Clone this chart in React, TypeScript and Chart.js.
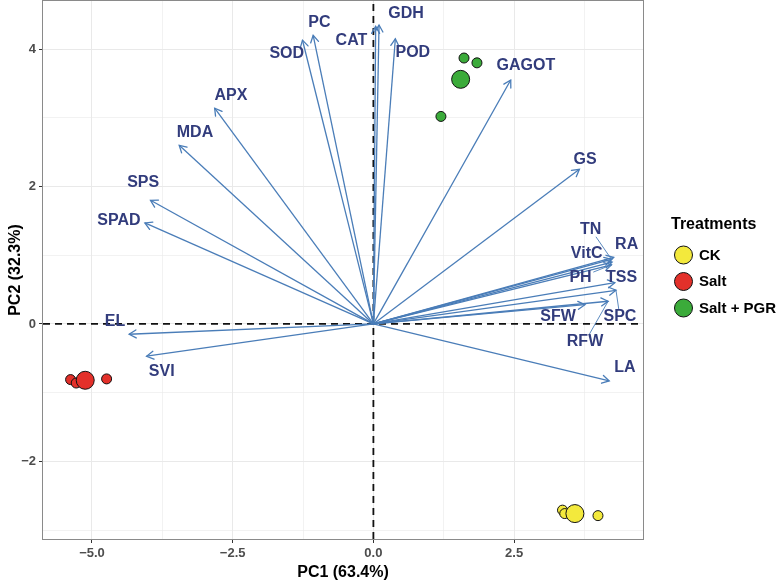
import React, { useEffect, useRef } from "react";
import { Chart, registerables } from "chart.js";

Chart.register(...registerables);

// ---- Variable loadings (arrow tips) ----
const variableNames = ["SOD", "PC", "CAT", "GDH", "POD", "APX", "MDA", "SPS", "SPAD", "GAGOT", "GS", "TN", "RA", "VitC", "PH", "TSS", "SPC", "RFW", "SFW", "LA", "EL", "SVI"];
const loadingPC1 = [-1.26, -1.07, 0.04, 0.10, 0.39, -2.82, -3.45, -3.96, -4.06, 2.44, 3.66, 4.23, 4.27, 4.24, 4.23, 4.29, 4.31, 4.17, 3.76, 4.19, -4.34, -4.03];
const loadingPC2 = [4.13, 4.20, 4.33, 4.35, 4.15, 3.14, 2.60, 1.80, 1.47, 3.55, 2.25, 0.94, 0.97, 0.90, 0.86, 0.60, 0.49, 0.33, 0.28, -0.83, -0.15, -0.47];
// label positions (data units)
const labelPC1 = [-1.54, -0.96, -0.39, 0.58, 0.70, -2.53, -3.17, -4.09, -4.52, 2.71, 3.76, 3.86, 4.50, 3.79, 3.68, 4.41, 4.38, 3.76, 3.28, 4.47, -4.59, -3.76];
const labelPC2 = [3.93, 4.39, 4.12, 4.51, 3.95, 3.33, 2.78, 2.06, 1.51, 3.76, 2.39, 1.38, 1.16, 1.03, 0.68, 0.68, 0.10, -0.26, 0.11, -0.64, 0.03, -0.69];
const segmentLabels = ["TN", "PH", "SPC", "RFW"];

// ---- Sample scores ----
const treatments = ["CK", "Salt", "Salt + PGR"];
const ckPC1 = [3.36, 3.40, 3.99];
const ckPC2 = [-2.71, -2.76, -2.79];
const ckCentroid = [3.58, -2.76];
const saltPC1 = [-5.38, -5.28, -4.74];
const saltPC2 = [-0.81, -0.86, -0.80];
const saltCentroid = [-5.12, -0.82];
const pgrPC1 = [1.61, 1.84, 1.20];
const pgrPC2 = [3.87, 3.80, 3.02];
const pgrCentroid = [1.55, 3.56];

// ---- Axes ----
const xMajorTicks = [-5, -2.5, 0, 2.5];
const xMinorTicks = [-3.75, -1.25, 1.25, 3.75];
const yMajorTicks = [-2, 0, 2, 4];
const yMinorTicks = [-3, -1, 1, 3];
const xTitle = "PC1 (63.4%)";
const yTitle = "PC2 (32.3%)";
const legendTitle = "Treatments";

const FONT = "'Liberation Sans', Arial, Helvetica, sans-serif";
const ARROW_COLOR = "#4A7DB8";
const LABEL_COLOR = "#323C7C";
const GROUP_COLORS = ["#F3E93C", "#E3302A", "#3BAB3A"];

function fmtMinus(s: string) {
  return s.replace("-", "\u2212");
}

export default function App() {
  const canvasRef = useRef<HTMLCanvasElement | null>(null);

  useEffect(() => {
    const canvas = canvasRef.current;
    if (!canvas) return;

    const arrowDatasets = variableNames.map((name, i) => ({
      type: "scatter" as const,
      label: name,
      data: [
        { x: 0, y: 0 },
        { x: loadingPC1[i], y: loadingPC2[i] },
      ],
      showLine: true,
      borderColor: ARROW_COLOR,
      backgroundColor: ARROW_COLOR,
      borderWidth: 1.3,
      pointRadius: 0,
      pointHoverRadius: 0,
      order: 2,
    }));

    const groups = [
      { x: ckPC1, y: ckPC2, c: ckCentroid },
      { x: saltPC1, y: saltPC2, c: saltCentroid },
      { x: pgrPC1, y: pgrPC2, c: pgrCentroid },
    ];
    const pointDatasets = groups.map((g, gi) => ({
      type: "scatter" as const,
      label: treatments[gi],
      data: [
        ...g.x.map((v, k) => ({ x: v, y: g.y[k] })),
        { x: g.c[0], y: g.c[1] },
      ],
      pointRadius: [5, 5, 5, 9],
      pointBackgroundColor: GROUP_COLORS[gi],
      pointBorderColor: "#111111",
      pointBorderWidth: 1,
      showLine: false,
      order: 1,
    }));

    const zeroLinesPlugin = {
      id: "zeroLines",
      beforeDatasetsDraw(chart: any) {
        const { ctx, chartArea, scales } = chart;
        const x0 = scales.x.getPixelForValue(0);
        const y0 = scales.y.getPixelForValue(0);
        ctx.save();
        ctx.strokeStyle = "#111111";
        ctx.lineWidth = 1.8;
        ctx.setLineDash([7, 5]);
        ctx.beginPath();
        ctx.moveTo(chartArea.left, y0);
        ctx.lineTo(chartArea.right, y0);
        ctx.stroke();
        ctx.beginPath();
        ctx.moveTo(x0, chartArea.bottom);
        ctx.lineTo(x0, chartArea.top);
        ctx.stroke();
        ctx.restore();
      },
    };

    const arrowsPlugin = {
      id: "arrowsAndLabels",
      afterDatasetsDraw(chart: any) {
        const { ctx, scales } = chart;
        ctx.save();
        // arrow heads
        ctx.strokeStyle = ARROW_COLOR;
        ctx.lineWidth = 1.3;
        ctx.lineCap = "round";
        for (let i = 0; i < variableNames.length; i++) {
          const ox = scales.x.getPixelForValue(0);
          const oy = scales.y.getPixelForValue(0);
          const tx = scales.x.getPixelForValue(loadingPC1[i]);
          const ty = scales.y.getPixelForValue(loadingPC2[i]);
          const ang = Math.atan2(ty - oy, tx - ox);
          const L = 8;
          const a = Math.PI / 6;
          ctx.beginPath();
          ctx.moveTo(tx - L * Math.cos(ang - a), ty - L * Math.sin(ang - a));
          ctx.lineTo(tx, ty);
          ctx.lineTo(tx - L * Math.cos(ang + a), ty - L * Math.sin(ang + a));
          ctx.stroke();
        }
        // labels
        ctx.font = `bold 16px ${FONT}`;
        ctx.textAlign = "center";
        ctx.textBaseline = "middle";
        for (let i = 0; i < variableNames.length; i++) {
          const name = variableNames[i];
          const cx = scales.x.getPixelForValue(labelPC1[i]);
          const cy = scales.y.getPixelForValue(labelPC2[i]);
          if (segmentLabels.includes(name)) {
            const tx = scales.x.getPixelForValue(loadingPC1[i]);
            const ty = scales.y.getPixelForValue(loadingPC2[i]);
            const w = ctx.measureText(name).width;
            const hw = w / 2 + 2;
            const hh = 8;
            const dx = tx - cx;
            const dy = ty - cy;
            const t = Math.min(
              dx !== 0 ? hw / Math.abs(dx) : Infinity,
              dy !== 0 ? hh / Math.abs(dy) : Infinity
            );
            ctx.strokeStyle = ARROW_COLOR;
            ctx.lineWidth = 0.9;
            ctx.beginPath();
            ctx.moveTo(cx + dx * t, cy + dy * t);
            ctx.lineTo(tx, ty);
            ctx.stroke();
          }
          ctx.fillStyle = LABEL_COLOR;
          ctx.fillText(name, cx, cy);
        }
        ctx.restore();
      },
    };

    const frameLegendPlugin = {
      id: "frameLegend",
      afterDraw(chart: any) {
        const { ctx, chartArea } = chart;
        ctx.save();
        ctx.strokeStyle = "#8A8A8A";
        ctx.lineWidth = 1;
        ctx.strokeRect(chartArea.left - 0.5, chartArea.top - 0.5, chartArea.right - chartArea.left + 1, chartArea.bottom - chartArea.top + 1);
        // legend
        ctx.fillStyle = "#000000";
        ctx.font = `bold 16px ${FONT}`;
        ctx.textAlign = "left";
        ctx.textBaseline = "middle";
        ctx.fillText(legendTitle, 671, 225);
        ctx.font = `bold 15px ${FONT}`;
        treatments.forEach((t, i) => {
          const y = 255 + i * 26.5;
          ctx.beginPath();
          ctx.arc(683.5, y, 9, 0, Math.PI * 2);
          ctx.fillStyle = GROUP_COLORS[i];
          ctx.fill();
          ctx.strokeStyle = "#111111";
          ctx.lineWidth = 1;
          ctx.stroke();
          ctx.fillStyle = "#000000";
          ctx.fillText(t, 699, y + 0.5);
        });
        ctx.restore();
      },
    };

    const isIn = (arr: number[], v: number) => arr.some((m) => Math.abs(m - v) < 1e-6);

    const chart = new Chart(canvas, {
      type: "scatter",
      data: { datasets: [...pointDatasets, ...arrowDatasets] as any },
      options: {
        animation: false,
        responsive: true,
        maintainAspectRatio: false,
        layout: { autoPadding: false, padding: { top: 1, right: 137, left: 0, bottom: 0 } },
        plugins: {
          legend: { display: false },
          tooltip: { enabled: false },
        },
        scales: {
          x: {
            type: "linear",
            min: -5.87,
            max: 4.79,
            afterBuildTicks(scale: any) {
              scale.ticks = [...xMajorTicks, ...xMinorTicks].sort((a, b) => a - b).map((v) => ({ value: v }));
            },
            afterFit(scale: any) {
              scale.height = 46;
              scale.paddingLeft = 0;
              scale.paddingRight = 0;
            },
            border: { display: false },
            grid: {
              color: "#E9E9E9",
              lineWidth: (c: any) => (c.tick && isIn(xMajorTicks, c.tick.value) ? 1 : 0.6),
              tickColor: (c: any) => (c.tick && isIn(xMajorTicks, c.tick.value) ? "#333333" : "rgba(0,0,0,0)"),
              tickLength: 4,
              tickWidth: 1,
            },
            ticks: {
              autoSkip: false,
              maxRotation: 0,
              padding: 3,
              color: "#4D4D4D",
              font: { family: FONT, size: 13, weight: "bold" },
              callback: (v: any) => (isIn(xMajorTicks, Number(v)) ? fmtMinus(Number(v).toFixed(1)) : ""),
            },
            title: {
              display: true,
              text: xTitle,
              color: "#000000",
              font: { family: FONT, size: 16, weight: "bold" },
              padding: { top: 0, bottom: 3 },
            },
          },
          y: {
            type: "linear",
            min: -3.13,
            max: 4.7,
            afterBuildTicks(scale: any) {
              scale.ticks = [...yMajorTicks, ...yMinorTicks].sort((a, b) => a - b).map((v) => ({ value: v }));
            },
            afterFit(scale: any) {
              scale.width = 43;
              scale.paddingTop = 0;
              scale.paddingBottom = 0;
            },
            border: { display: false },
            grid: {
              color: "#E9E9E9",
              lineWidth: (c: any) => (c.tick && isIn(yMajorTicks, c.tick.value) ? 1 : 0.6),
              tickColor: (c: any) => (c.tick && isIn(yMajorTicks, c.tick.value) ? "#333333" : "rgba(0,0,0,0)"),
              tickLength: 4,
              tickWidth: 1,
            },
            ticks: {
              autoSkip: false,
              padding: 3,
              color: "#4D4D4D",
              font: { family: FONT, size: 13, weight: "bold" },
              callback: (v: any) => (isIn(yMajorTicks, Number(v)) ? fmtMinus(String(Number(v))) : ""),
            },
            title: {
              display: true,
              text: yTitle,
              color: "#000000",
              font: { family: FONT, size: 16, weight: "bold" },
              padding: { top: 6, bottom: 0 },
            },
          },
        },
      } as any,
      plugins: [zeroLinesPlugin, arrowsPlugin, frameLegendPlugin],
    });

    return () => chart.destroy();
  }, []);

  return (
    <div style={{ position: "fixed", left: 0, top: 0, width: 780, height: 585, background: "#ffffff" }}>
      <canvas ref={canvasRef} />
    </div>
  );
}
